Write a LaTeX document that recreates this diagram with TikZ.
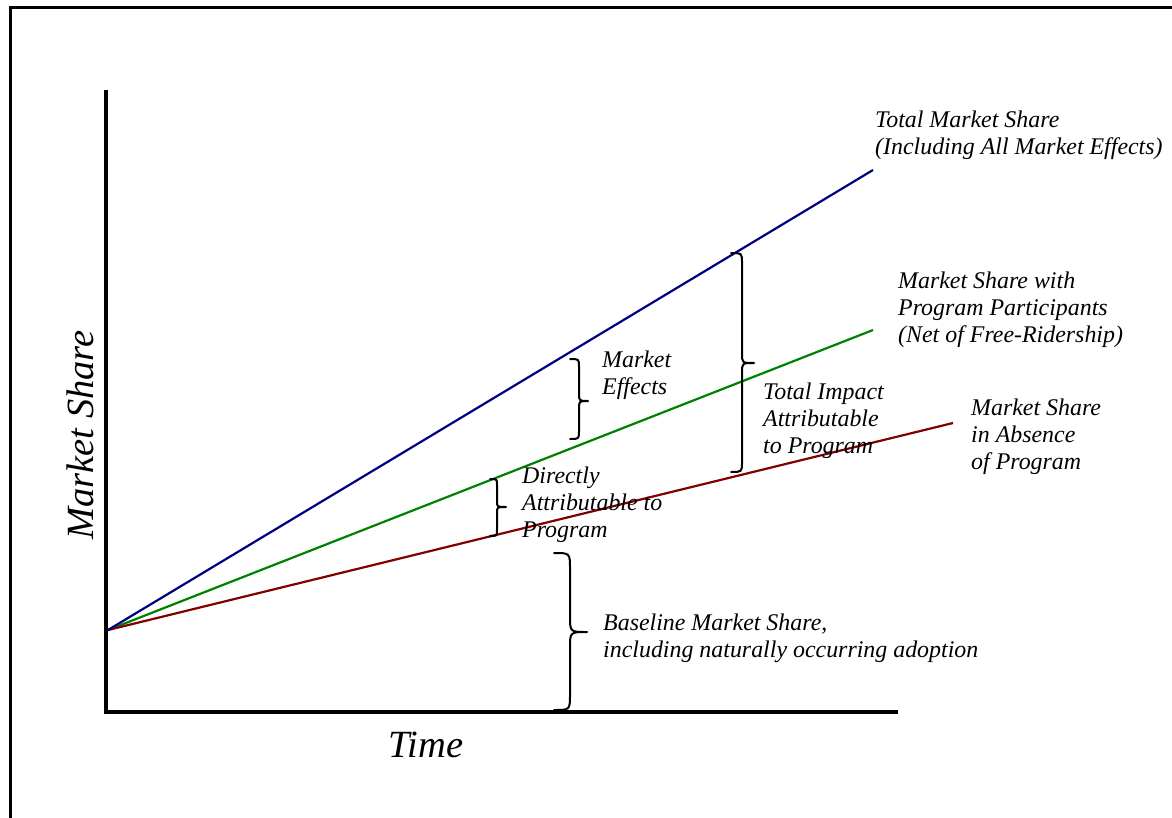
\documentclass[tikz,border=0pt]{standalone}
\usepackage{fontspec}
\setmainfont{Liberation Serif}
\definecolor{navyline}{RGB}{0,0,128}
\definecolor{greenline}{RGB}{0,128,0}
\definecolor{redline}{RGB}{128,0,0}
\newcommand\lbltab[1]{\begin{tabular}[t]{@{}l@{}}#1\end{tabular}}
\newcommand\mybrace[7]{\draw[bracestyle] (#1,#4) .. controls (#2,#4) .. (#2,#4+#7) -- (#2,#5-#7) .. controls (#2,#5) .. (#3,#5) .. controls (#2,#5) .. (#2,#5+#7) -- (#2,#6-#7) .. controls (#2,#6) .. (#1,#6);}
\begin{document}
\begin{tikzpicture}[x=1pt,y=-1pt,
  framestyle/.style={line width=3pt},
  axisstyle/.style={line width=4pt},
  trend/.style={line width=2.2pt},
  bracestyle/.style={line width=2pt, line cap=round, line join=round},
  lbl/.style={font=\fontsize{23.9}{27}\selectfont\itshape, inner sep=0pt, anchor=base west},
  axlbl/.style={font=\fontsize{38.5}{44}\selectfont\itshape, inner sep=0pt, anchor=base}]
\useasboundingbox (0,0) rectangle (1172,818);
% frame
\coordinate (fbl) at (10.5,818);
\coordinate (ftl) at (10.5,7.5);
\coordinate (ftr) at (1172,7.5);
\draw[framestyle] (fbl) -- (ftl) -- (ftr);
% axes
\coordinate (ytop) at (106,90);
\coordinate (corner) at (106,711.5);
\coordinate (xend) at (898,711.5);
\draw[axisstyle] (ytop) -- (corner) -- (xend);
% trend lines
\coordinate (O) at (108,630);
\coordinate (blueEnd) at (873,170);
\coordinate (greenEnd) at (873,330);
\coordinate (redEnd) at (953,423);
\draw[trend, greenline] (O) -- (greenEnd);
\draw[trend, redline] (O) -- (redEnd);
\draw[trend, navyline] (O) -- (blueEnd);
% braces
\mybrace{570}{579}{588}{359}{401}{439}{8}
\mybrace{490}{497}{506}{479}{507}{536}{6}
\mybrace{731}{742}{754}{253}{363}{472}{10}
\mybrace{554}{570}{587}{553}{632}{710}{16}
% labels
\node[lbl] (tms) at (875,128) {\lbltab{Total Market Share\\(Including All Market Effects)}};
\node[lbl] (msp) at (898,288) {\lbltab{Market Share with\\Program Participants\\(Net of Free-Ridership)}};
\node[lbl] (msa) at (971,415) {\lbltab{Market Share\\in Absence\\of Program}};
\node[lbl] (me) at (602,367) {\lbltab{Market\\Effects}};
\node[lbl] (dap) at (522,483) {\lbltab{Directly\\Attributable to\\Program}};
\node[lbl] (tia) at (763,399) {\lbltab{Total Impact\\Attributable\\to Program}};
\node[lbl] (bms) at (603,630) {\lbltab{Baseline Market Share,\\including naturally occurring adoption}};
\node[axlbl, rotate=90] (ylab) at (93,435) {Market Share};
\node[axlbl] (xlab) at (426,757) {Time};
\end{tikzpicture}
\end{document}
